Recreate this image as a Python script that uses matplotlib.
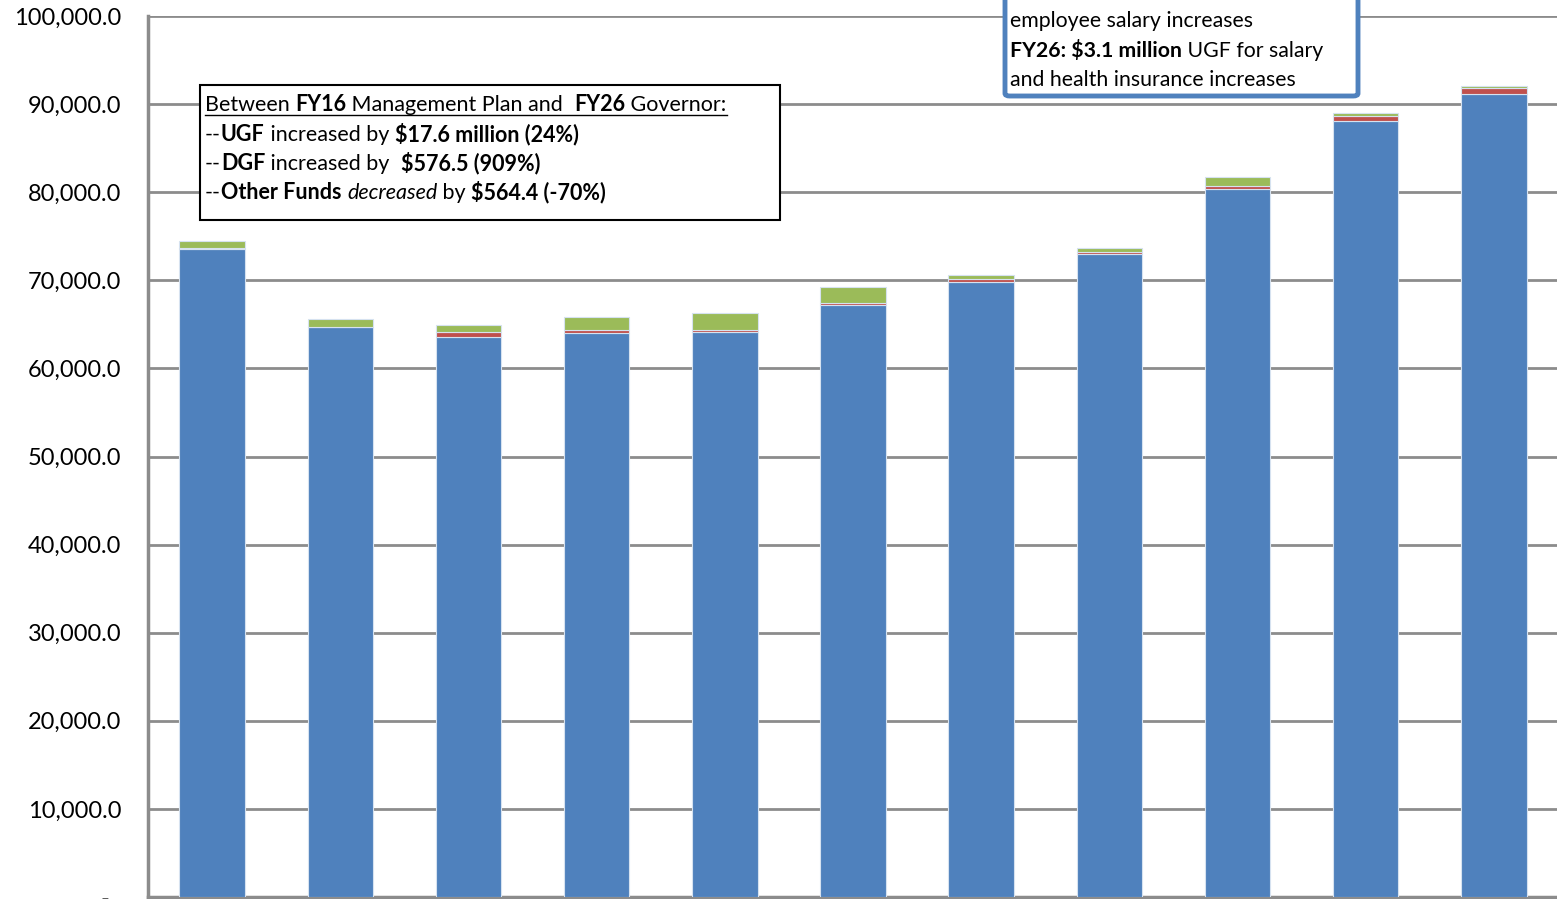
import matplotlib
matplotlib.use("Agg")
import matplotlib.pyplot as plt
from matplotlib.patches import Rectangle, FancyBboxPatch
from matplotlib.ticker import FuncFormatter

# Operating budget by fund source, $ thousands
years = ["FY16", "FY17", "FY18", "FY19", "FY20", "FY21",
         "FY22", "FY23", "FY24", "FY25", "FY26"]
ugf = [73600, 64660, 63520, 64050, 64090, 67150, 69810, 72940, 80320, 88040, 91200]
dgf = [63, 60, 640, 340, 290, 300, 300, 300, 380, 640, 640]
other = [806, 860, 800, 1400, 1930, 1740, 490, 450, 1020, 300, 242]

W, H = 1557, 899
plt.rcParams['font.family'] = ['Lato', 'DejaVu Sans']

fig = plt.figure(figsize=(W / 100, H / 100), dpi=100)
ax = fig.add_axes([148 / W, 2 / H, 1410 / W, 881 / H])

x = range(len(years))
ec = '#d6e2f0'
ax.bar(x, ugf, width=0.51, color='#4F81BD', edgecolor=ec, linewidth=0.8, zorder=3)
bottom2 = [a for a in ugf]
ax.bar(x, dgf, width=0.51, bottom=bottom2, color='#C0504D', edgecolor=ec, linewidth=0.8, zorder=3)
bottom3 = [a + b for a, b in zip(ugf, dgf)]
ax.bar(x, other, width=0.51, bottom=bottom3, color='#9BBB59', edgecolor=ec, linewidth=0.8, zorder=3)

ax.set_xlim(-0.5, len(years) - 0.5)
ax.set_ylim(0, 100000)
ax.set_yticks(range(0, 100001, 10000))
ax.yaxis.set_major_formatter(FuncFormatter(lambda v, p: '-  ' if v == 0 else f'{v:,.1f}'))
ax.tick_params(axis='y', length=0, pad=19, labelsize=17)
ax.set_xticks([])
ax.grid(axis='y', color='#8c8c8c', linewidth=2, zorder=0)
for s in ['top', 'right']:
    ax.spines[s].set_visible(False)
for s in ['left', 'bottom']:
    ax.spines[s].set_color('#8c8c8c')
    ax.spines[s].set_linewidth(2.5)

fig.canvas.draw()
renderer = fig.canvas.get_renderer()


def run_width(s, size, weight, style):
    # measure with bars on both sides so spaces are counted
    t1 = fig.text(0, 0, '|' + s + '|', fontsize=size, fontweight=weight, fontstyle=style)
    t2 = fig.text(0, 0, '||', fontsize=size, fontweight=weight, fontstyle=style)
    w = t1.get_window_extent(renderer).width - t2.get_window_extent(renderer).width
    t1.remove()
    t2.remove()
    return w


def draw_line(x0, y0, runs, size, zorder=6):
    # runs: list of (text, weight, style); x0, y0 in pixels from top-left, baseline
    xc = x0
    for s, weight, style in runs:
        fig.text(xc / W, 1 - y0 / H, s, fontsize=size, fontweight=weight,
                 fontstyle=style, va='baseline', ha='left', zorder=zorder)
        xc += run_width(s, size, weight, style)
    return xc


# left summary box
fig.patches.append(Rectangle((200 / W, 1 - 220 / H), 580 / W, 135 / H,
                             transform=fig.transFigure, facecolor='white',
                             edgecolor='black', linewidth=1.5, zorder=5))
fs = 15.5
end = draw_line(205, 111, [('Between ', 'normal', 'normal'), ('FY16', 'bold', 'normal'),
                           (' Management Plan and  ', 'normal', 'normal'),
                           ('FY26', 'bold', 'normal'), (' Governor:', 'normal', 'normal')], fs)
fig.lines.append(plt.Line2D([205 / W, end / W], [1 - 115 / H, 1 - 115 / H],
                            transform=fig.transFigure, color='black', linewidth=1, zorder=6))
draw_line(205, 141, [('--', 'normal', 'normal'), ('UGF', 'bold', 'normal'),
                     (' increased by ', 'normal', 'normal'),
                     ('$17.6 million (24%)', 'bold', 'normal')], fs)
draw_line(205, 170, [('--', 'normal', 'normal'), ('DGF', 'bold', 'normal'),
                     (' increased by  ', 'normal', 'normal'),
                     ('$576.5 (909%)', 'bold', 'normal')], fs)
draw_line(205, 199, [('--', 'normal', 'normal'), ('Other Funds', 'bold', 'normal'),
                     (' ', 'normal', 'normal'), ('decreased', 'normal', 'italic'),
                     (' by ', 'normal', 'normal'), ('$564.4 (-70%)', 'bold', 'normal')], fs)

# right note box (runs off the top edge)
fig.patches.append(FancyBboxPatch((1005 / W, 1 - 96 / H), 353 / W, 140 / H,
                                  boxstyle='round,pad=0,rounding_size=0.003',
                                  transform=fig.transFigure, facecolor='white',
                                  edgecolor='#4F81BD', linewidth=3.5, zorder=5))
fs2 = 15.3
draw_line(1010, 27, [('employee salary increases', 'normal', 'normal')], fs2)
draw_line(1010, 57, [('FY26: $3.1 million', 'bold', 'normal'),
                     (' UGF for salary', 'normal', 'normal')], fs2)
draw_line(1010, 86, [('and health insurance increases', 'normal', 'normal')], fs2)

fig.savefig('out.png', dpi=100)
